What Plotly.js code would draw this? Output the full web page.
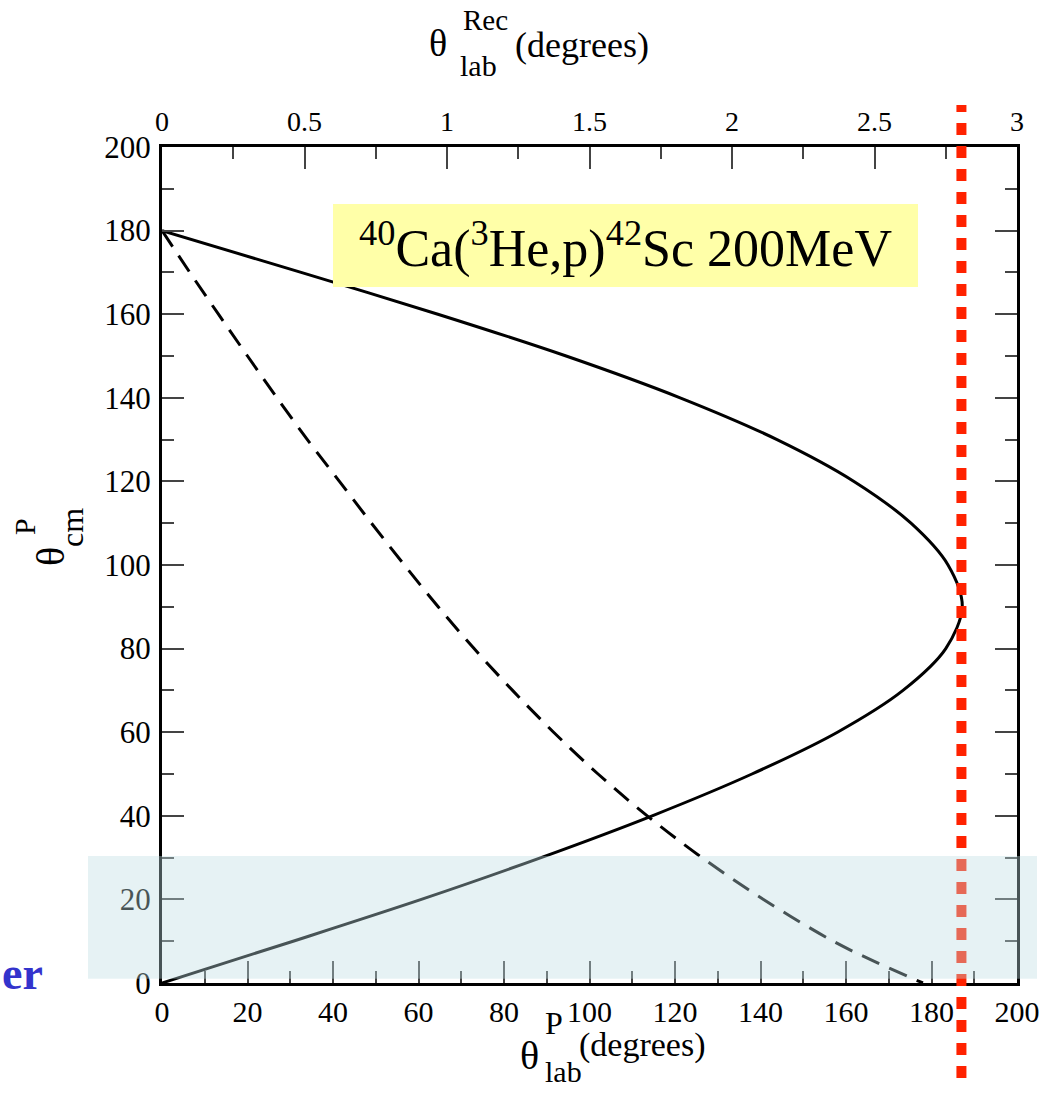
<!DOCTYPE html>
<html>
<head>
<meta charset="utf-8">
<script src="https://cdn.plot.ly/plotly-3.0.1.min.js"></script>
<style>html,body{margin:0;padding:0;background:#fff;}#chart{width:1044px;height:1093px;}</style>
</head>
<body>
<div id="chart"></div>
<script>
// ---- data ----
// solid curve: recoil lab angle (top axis, degrees) vs proton c.m. angle
const recoilThetaCm  = [0, 10, 20, 30, 40, 50, 60, 70, 80, 90, 100, 110, 120, 130, 140, 150, 160, 170, 180];
const recoilThetaLab = [0, 0.46, 0.91, 1.33, 1.72, 2.07, 2.37, 2.60, 2.75, 2.808, 2.758, 2.628, 2.428, 2.158, 1.818, 1.418, 0.968, 0.488, 0];
// dashed curve: proton lab angle (bottom axis, degrees) vs proton c.m. angle
const protonThetaCm  = [180, 170, 160, 150, 140, 130, 120, 110, 100, 90, 80, 70, 60, 50, 40, 30, 20, 10, 5, 0];
const protonThetaLab = [0, 6.5, 13.2, 20.0, 26.9, 34.0, 41.5, 49.0, 56.7, 64.6, 73.0, 82.0, 91.6, 102.0, 113.5, 126.3, 140.7, 157.0, 167.0, 178.0];
// marked maximum recoil angle (red dotted line), top-axis units
const maxRecoilAngle = 2.805;
// highlighted c.m. band (light blue)
const bandThetaCm = [1, 30.4];
// tick labels
const bottomTicks = [0, 20, 40, 60, 80, 100, 120, 140, 160, 180, 200];
const topTicks = [0, 0.5, 1, 1.5, 2, 2.5, 3];
const leftTicks = [0, 20, 40, 60, 80, 100, 120, 140, 160, 180, 200];
const reactionLabel = '<sup>40</sup>Ca(<sup>3</sup>He,p)<sup>42</sup>Sc 200MeV';

// ---- layout geometry ----
const W = 1044, H = 1093;
const M = {l: 162, r: 27, t: 147, b: 110};
const PW = W - M.l - M.r, PH = H - M.t - M.b;
const px = x => (x - M.l) / PW;          // pixel -> paper x
const py = y => (H - M.b - y) / PH;      // pixel -> paper y
const SERIF = 'Liberation Serif, Times New Roman, serif';

const traces = [
  {x: recoilThetaLab, y: recoilThetaCm, xaxis: 'x2', yaxis: 'y', mode: 'lines',
   line: {color: '#000', width: 3, shape: 'spline', smoothing: 0.9}, name: 'recoil', showlegend: false, hoverinfo: 'skip'},
  {x: protonThetaLab, y: protonThetaCm, xaxis: 'x', yaxis: 'y', mode: 'lines',
   line: {color: '#000', width: 3, dash: '19px,11px', shape: 'spline', smoothing: 1}, name: 'proton', showlegend: false, hoverinfo: 'skip'}
];

const axisCommon = {
  showgrid: false, zeroline: false, showline: true, linecolor: '#000', linewidth: 3,
  ticks: 'inside', tickcolor: '#444', tickwidth: 2, ticklen: 22
};

function ann(text, x, y, size, opts) {
  return Object.assign({text: text, xref: 'paper', yref: 'paper', x: px(x), y: py(y),
    xanchor: 'center', yanchor: 'middle', showarrow: false,
    font: {family: SERIF, size: size, color: '#000'}}, opts || {});
}

const layout = {
  width: W, height: H, autosize: false,
  margin: M, paper_bgcolor: '#fff', plot_bgcolor: '#fff',
  font: {family: SERIF, size: 20, color: '#000'},
  showlegend: false,
  xaxis: Object.assign({}, axisCommon, {
    range: [0, 200], tickvals: bottomTicks, ticktext: bottomTicks.map(String),
    minor: {dtick: 10, ticks: 'inside', ticklen: 12, tickcolor: '#444', tickwidth: 2},
    tickfont: {family: SERIF, size: 30, color: '#000'}, ticklabelstandoff: 0
  }),
  xaxis2: Object.assign({}, axisCommon, {
    range: [0, 3], overlaying: 'x', side: 'top', anchor: 'y',
    tickvals: topTicks, ticktext: topTicks.map(String),
    minor: {dtick: 0.25, ticks: 'inside', ticklen: 12, tickcolor: '#444', tickwidth: 2},
    tickfont: {family: SERIF, size: 28, color: '#000'}, ticklabelstandoff: 2
  }),
  yaxis: Object.assign({}, axisCommon, {
    range: [0, 200], tickvals: leftTicks, ticktext: leftTicks.map(String), mirror: 'ticks',
    minor: {dtick: 10, ticks: 'inside', ticklen: 12, tickcolor: '#444', tickwidth: 2},
    tickfont: {family: SERIF, size: 31, color: '#000'}, ticklabelstandoff: 2
  }),
  shapes: [
    {type: 'line', xref: 'x2', yref: 'paper', x0: maxRecoilAngle, x1: maxRecoilAngle,
     y0: py(1078), y1: py(105), layer: 'above',
     line: {color: '#ff2200', width: 10, dash: '12px,11px'}},
    {type: 'rect', xref: 'paper', yref: 'y', x0: px(88), x1: px(1037),
     y0: bandThetaCm[0], y1: bandThetaCm[1], layer: 'above',
     fillcolor: 'rgba(189,221,226,0.38)', line: {width: 0}}
  ],
  annotations: [
    // reaction label box
    Object.assign(ann(reactionLabel, 625.5, 245.5, 52), {bgcolor: '#ffffa8', width: 585, height: 83,
      borderpad: 0, borderwidth: 0, align: 'center', valign: 'middle'}),
    // top title: theta_lab^Rec (degrees)
    ann('θ', 438, 43, 38),
    ann('Rec', 485, 20, 29),
    ann('lab', 478, 66, 30),
    ann('(degrees)', 582, 45, 36),
    // bottom title: theta_lab^P (degrees)
    ann('θ', 529, 1055, 40),
    ann('P', 554, 1023, 32),
    ann('lab', 563, 1071, 30, {borderpad: 0}),
    ann('(degrees)', 642, 1045, 34),
    // y title: theta_cm^P
    ann('θ', 50, 556, 40, {textangle: -90}),
    ann('P', 24, 527, 30, {textangle: -90}),
    ann('cm', 72, 528, 32, {textangle: -90}),
    // slide text at left edge
    {text: '<b>er</b>', xref: 'paper', yref: 'paper', x: px(0), y: py(973), xanchor: 'left', yanchor: 'middle',
     showarrow: false, font: {family: SERIF, size: 46, color: '#3333cc'}}
  ]
};

Plotly.newPlot('chart', traces, layout, {staticPlot: true, displayModeBar: false});
</script>
</body>
</html>
